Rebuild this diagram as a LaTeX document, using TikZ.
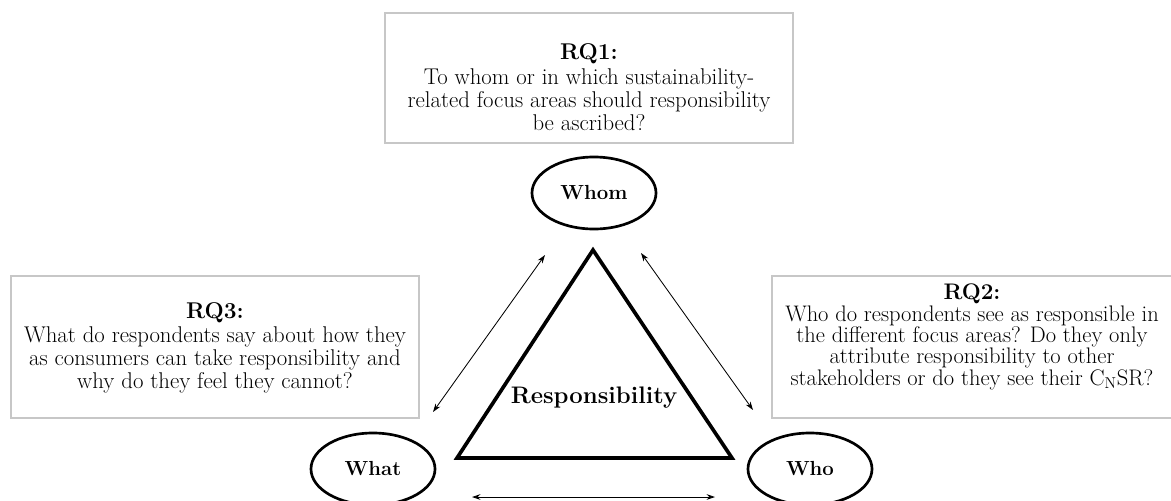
\documentclass[tikz,border=0pt]{standalone}
\usepackage{amsmath}
\usepackage{xcolor}
\usepackage{tikz}
\usetikzlibrary{calc,arrows.meta,shapes.geometric}

\begin{document}
\begin{tikzpicture}[x=0.025cm, y=-0.025cm,
    rqline/.style={draw=black!22, line width=1pt},
    rqtext/.style={align=center, inner sep=0pt, font=\fontsize{16.2}{16.4}\selectfont},
    corner/.style={draw, ellipse, line width=1.9pt, minimum width=3.1cm, minimum height=1.8cm, font=\fontsize{14.5}{17}\selectfont\bfseries},
    link/.style={{Stealth[length=6pt,width=4pt]}-{Stealth[length=6pt,width=4pt]}, line width=0.6pt}]
    \useasboundingbox (0,0) rectangle (1171,500);

    % Research question boxes
    \draw[rqline] (385,13) rectangle (793,143);
    \node[rqtext] (rq1) at (589,87) {\textbf{RQ1:}\\[1pt]
        To whom or in which sustainability-\\
        related focus areas should responsibility\\
        be ascribed?};

    \draw[rqline] (11,276) rectangle (419,418);
    \node[rqtext] (rq3) at (215,348) {\textbf{RQ3:}\\[1pt]
        What do respondents say about how they\\
        as consumers can take responsibility and\\
        why do they feel they cannot?};

    \draw[rqline] (772,276) rectangle (1180,418);
    \node[rqtext, font=\fontsize{16}{15.2}\selectfont] (rq2) at (972,337) {\textbf{RQ2:}\\
        Who do respondents see as responsible in\\
        the different focus areas? Do they only\\
        attribute responsibility to other\\
        stakeholders or do they see their C\textsubscript{N}SR?};

    % Corners
    \node[corner] (whom) at (594,193) {Whom};
    \node[corner] (what) at (373,469) {What};
    \node[corner] (who) at (810,469) {Who};

    % Triangle
    \coordinate (apex) at (593,250);
    \coordinate (baseL) at (457,458);
    \coordinate (baseR) at (732,458);
    \draw[line width=2.6pt, line join=miter] (apex) -- (baseR) -- (baseL) -- cycle;
    \node[font=\fontsize{17}{20}\selectfont\bfseries] (resp) at (594,398) {Responsibility};

    % Links between corners
    \draw[link] ($(whom)+(-49,62)$) -- ($(what)+(60,-57)$);
    \draw[link] ($(whom)+(47,60)$) -- ($(who)+(-57,-59)$);
    \draw[link] ($(what)+(99,28)$) -- ($(who)+(-95,28)$);
\end{tikzpicture}
\end{document}
